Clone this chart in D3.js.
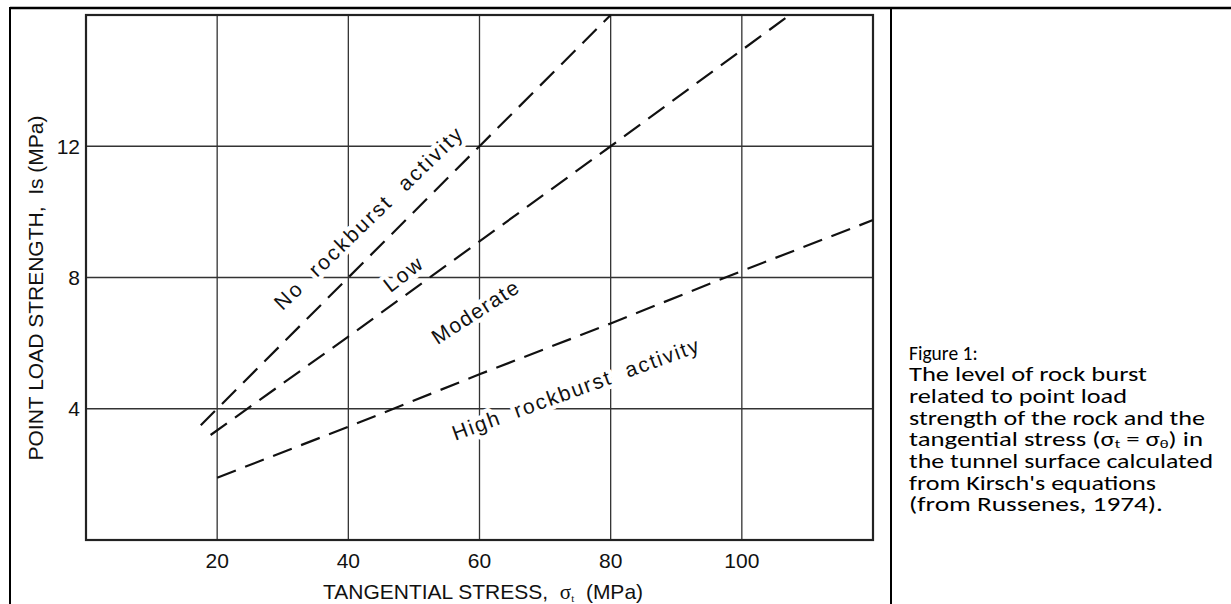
<!DOCTYPE html>
<html>
<head>
<meta charset="utf-8">
<script src="https://cdn.jsdelivr.net/npm/d3@7"></script>
<style>
  body { margin: 0; background: #fff; }
  text { white-space: pre; }
</style>
</head>
<body>
<script>
// chart values
var xTicks = [20, 40, 60, 80, 100]
var yTicks = [4, 8, 12]
var noLowBoundary = [[17.5, 3.5], [40, 8], [60, 12], [80, 16]]
var lowModBoundary = [[19, 3.2], [40, 6.2], [80, 12], [107.3, 16]]
var modHighBoundary = [[20, 1.9], [40, 3.45], [60, 5.05], [80, 6.6], [100, 8.2], [120, 9.75]]
// zone labels: text, x, y (data), angle, length along baseline
var zoneLabels = [
    ["No  rockburst  activity", 43.0, 9.8, -44, 252],
    ["Low", 48.3, 8.1, -38, 43],
    ["Moderate", 59.3, 6.95, -33, 99],
    ["High  rockburst  activity", 74.6, 4.6, -20, 261]
]
// caption lines and their widths in the original
var captionLines = [
    "Figure 1:",
    "The level of rock burst",
    "related to point load",
    "strength of the rock and the",
    "tangential stress (σt = σθ) in",
    "the tunnel surface calculated",
    "from Kirsch's equations",
    "(from Russenes, 1974)."
]
var captionWidths = [0, 238, 218, 296, 294, 304, 247, 254]

var width = 1231, height = 604
var plot = { left: 86, right: 873, top: 15, bottom: 540 }
var font = "'Liberation Sans', Arial, sans-serif"

var canvas = d3.select("body").append("svg")
    .attr("width", width)
    .attr("height", height)

var x = d3.scaleLinear().domain([0, 120]).range([plot.left, plot.right])
var y = d3.scaleLinear().domain([0, 16]).range([plot.bottom, plot.top])

// page frame (table cell borders)
canvas.append("line").attr("x1", 10).attr("x2", width).attr("y1", 8).attr("y2", 8)
    .attr("stroke", "#000").attr("stroke-width", 2.5)
canvas.append("line").attr("x1", 10).attr("x2", 10).attr("y1", 7).attr("y2", height)
    .attr("stroke", "#000").attr("stroke-width", 2)
canvas.append("line").attr("x1", 891).attr("x2", 891).attr("y1", 7).attr("y2", height)
    .attr("stroke", "#000").attr("stroke-width", 2)

// grid
canvas.append("g").selectAll("line").data(xTicks).join("line")
    .attr("x1", d => x(d)).attr("x2", d => x(d))
    .attr("y1", plot.top).attr("y2", plot.bottom)
    .attr("stroke", "#333").attr("stroke-width", 1.3)
canvas.append("g").selectAll("line").data(yTicks).join("line")
    .attr("x1", plot.left).attr("x2", plot.right)
    .attr("y1", d => y(d)).attr("y2", d => y(d))
    .attr("stroke", "#333").attr("stroke-width", 1.3)

// white backing behind zone labels (cuts the grid like the original)
function drawLabels(halo) {
    canvas.append("g").selectAll("text").data(zoneLabels).join("text")
        .attr("transform", d => "translate(" + x(d[1]) + "," + y(d[2]) + ") rotate(" + d[3] + ")")
        .attr("text-anchor", "middle")
        .attr("dominant-baseline", "central")
        .attr("textLength", d => d[4])
        .attr("lengthAdjust", "spacing")
        .style("font-family", font)
        .style("font-size", "21px")
        .attr("fill", halo ? "#fff" : "#111")
        .attr("stroke", halo ? "#fff" : "none")
        .attr("stroke-width", halo ? 9 : 0)
        .attr("stroke-linejoin", "round")
        .text(d => d[0])
}
drawLabels(true)

// plot border
canvas.append("rect")
    .attr("x", plot.left).attr("y", plot.top)
    .attr("width", plot.right - plot.left).attr("height", plot.bottom - plot.top)
    .attr("fill", "none").attr("stroke", "#222").attr("stroke-width", 2.2)

// dashed boundaries
var line = d3.line().x(d => x(d[0])).y(d => y(d[1]))
canvas.append("g").selectAll("path").data([noLowBoundary, lowModBoundary, modHighBoundary]).join("path")
    .attr("d", line)
    .attr("fill", "none")
    .attr("stroke", "#111")
    .attr("stroke-width", 2.2)
    .attr("stroke-dasharray", "20,10")

drawLabels(false)

// tick labels
canvas.append("g").selectAll("text").data(xTicks).join("text")
    .attr("x", d => x(d)).attr("y", 568)
    .attr("text-anchor", "middle")
    .style("font-family", font).style("font-size", "21px")
    .attr("fill", "#111")
    .text(d => d)
canvas.append("g").selectAll("text").data(yTicks).join("text")
    .attr("x", 80).attr("y", d => y(d))
    .attr("dy", "0.36em")
    .attr("text-anchor", "end")
    .style("font-family", font).style("font-size", "21px")
    .attr("fill", "#111")
    .text(d => d)

// axis titles
canvas.append("text")
    .attr("transform", "translate(43,288) rotate(-90)")
    .attr("text-anchor", "middle")
    .style("font-family", font).style("font-size", "21px")
    .attr("fill", "#111")
    .text("POINT LOAD STRENGTH,  Is (MPa)")

var xTitle = canvas.append("text")
    .attr("x", 483).attr("y", 599)
    .attr("text-anchor", "middle")
    .style("font-family", font).style("font-size", "21px")
    .attr("fill", "#111")
xTitle.append("tspan").text("TANGENTIAL STRESS,  ")
xTitle.append("tspan").style("font-family", "'Liberation Serif', serif").text("σ")
xTitle.append("tspan").attr("dy", 3).style("font-size", "11px").style("font-family", "'Liberation Serif', serif").text("t")
xTitle.append("tspan").attr("dy", -3).text("  (MPa)")

// caption
var captionFont = "Carlito, Calibri, 'Open Sans', sans-serif"
var cap = canvas.append("g").selectAll("text").data(captionLines).join("text")
    .attr("x", 909)
    .attr("y", (d, i) => 359.5 + i * 21.7)
    .style("font-family", captionFont)
    .style("font-size", "19.5px")
    .attr("fill", "#000")
cap.each(function (d, i) {
    var t = d3.select(this)
    if (captionWidths[i] > 0) t.attr("textLength", captionWidths[i]).attr("lengthAdjust", "spacingAndGlyphs")
    if (d.indexOf("σt") < 0) { t.text(d); return }
    t.append("tspan").text("tangential stress (σ")
    t.append("tspan").attr("dy", 2).style("font-size", "12px").text("t")
    t.append("tspan").attr("dy", -2).text(" = σ")
    t.append("tspan").attr("dy", 2).style("font-size", "12px").text("θ")
    t.append("tspan").attr("dy", -2).text(") in")
})
</script>
</body>
</html>
